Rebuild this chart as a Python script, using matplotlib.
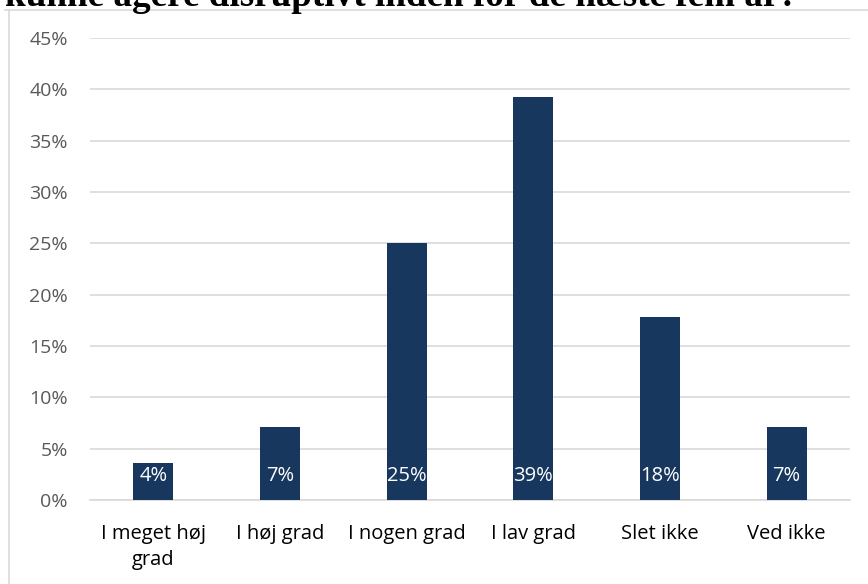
import matplotlib
matplotlib.use("Agg")
import matplotlib.pyplot as plt
from matplotlib.lines import Line2D

categories = ["I meget høj\ngrad", "I høj grad", "I nogen grad", "I lav grad", "Slet ikke", "Ved ikke"]
values = [3.57, 7.14, 25.0, 39.29, 17.86, 7.14]
yticks = [0, 5, 10, 15, 20, 25, 30, 35, 40, 45]
title = "kunne agere disruptivt inden for de næste fem år?"

W, H = 868, 584
fig = plt.figure(figsize=(W / 100, H / 100), dpi=100)

# chart frame (top and left edges visible)
fig.add_artist(Line2D([5 / W, 1.0], [1 - 10 / H, 1 - 10 / H], color="#d9d9d9", lw=1.2))
fig.add_artist(Line2D([9 / W, 9 / W], [0, 1 - 10 / H], color="#d9d9d9", lw=1.2))

# heading, clipped at the top of the canvas
fig.text(5 / W, 1 - 6 / H, title, family="Liberation Serif", weight="bold",
         fontsize=26.7, color="black", ha="left", va="baseline")

font = "Open Sans"
ax = fig.add_axes([90 / W, 1 - 500 / H, 760 / W, 462 / H])
x = range(len(categories))
bars = ax.bar(x, values, width=0.315, color="#17375e", zorder=3)
ax.set_xlim(-0.5, len(categories) - 0.5)
ax.set_ylim(0, 45)
ax.set_yticks(yticks)
ax.set_yticklabels([f"{t}%" for t in yticks], family=font, fontsize=14, color="#595959")
ax.set_xticks(list(x))
ax.set_xticklabels(categories, family=font, fontsize=14.5, color="black", linespacing=1.4)
ax.tick_params(axis="both", length=0)
ax.tick_params(axis="x", pad=17)
ax.tick_params(axis="y", pad=16)
ax.grid(axis="y", color="#d9d9d9", lw=1.2, zorder=0)
for s in ax.spines.values():
    s.set_visible(False)
ax.spines["bottom"].set_visible(True)
ax.spines["bottom"].set_color("#d9d9d9")
ax.spines["bottom"].set_linewidth(1.2)

for i, v in enumerate(values):
    ax.text(i, 2.3, f"{round(v)}%", ha="center", va="center", color="white",
            family=font, fontsize=14.5, zorder=4)

fig.savefig("out.png", dpi=100)
